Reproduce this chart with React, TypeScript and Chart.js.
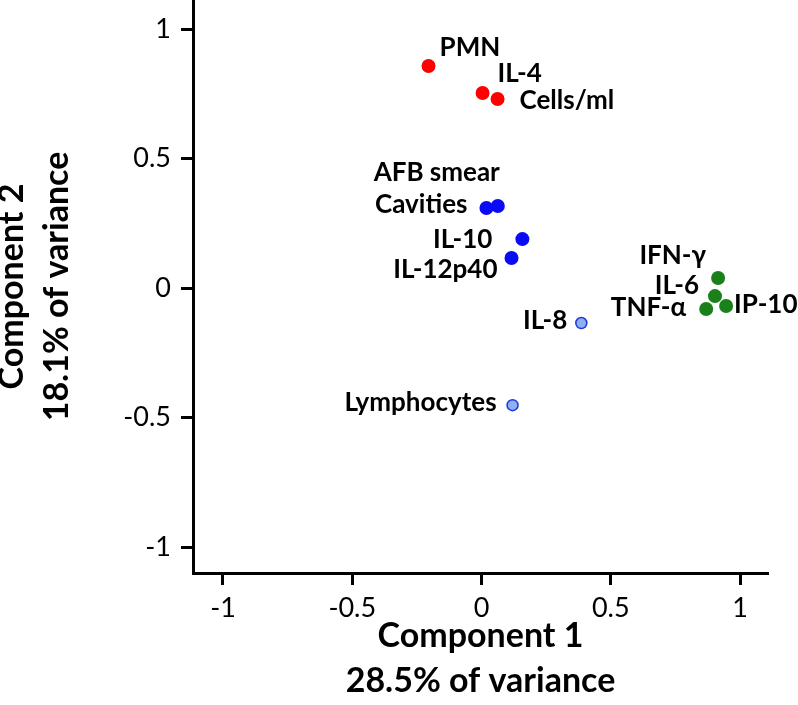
import { useEffect, useRef } from 'react';
import { Chart, registerables } from 'chart.js';

Chart.register(...registerables);

// ---- data ----
const redNames = ['PMN', 'IL-4', 'Cells/ml'];
const redX = [-0.205, 0.004, 0.062];
const redY = [0.857, 0.753, 0.73];

const blueNames = ['AFB smear', 'Cavities', 'IL-10', 'IL-12p40'];
const blueX = [0.063, 0.019, 0.158, 0.116];
const blueY = [0.317, 0.309, 0.189, 0.116];

const lightNames = ['IL-8', 'Lymphocytes'];
const lightX = [0.386, 0.12];
const lightY = [-0.135, -0.452];

const greenNames = ['IFN-γ', 'IL-6', 'IP-10', 'TNF-α'];
const greenX = [0.915, 0.903, 0.946, 0.869];
const greenY = [0.039, -0.031, -0.069, -0.081];

const xTicks = [-1, -0.5, 0, 0.5, 1];
const yTicks = [-1, -0.5, 0, 0.5, 1];

const xTitle = ['Component 1', '28.5% of variance'];
const yTitle = ['Component 2', '18.1% of variance'];

// ---- label placement (style) ----
const labelPlacement: Record<string, { dx: number; dy: number; align: CanvasTextAlign }> = {
  'PMN': { dx: 11, dy: -18, align: 'left' },
  'IL-4': { dx: 15, dy: -19, align: 'left' },
  'Cells/ml': { dx: 22, dy: 2, align: 'left' },
  'AFB smear': { dx: 2, dy: -33, align: 'right' },
  'Cavities': { dx: -19, dy: -3, align: 'right' },
  'IL-10': { dx: -30, dy: 1, align: 'right' },
  'IL-12p40': { dx: -14, dy: 12, align: 'right' },
  'IL-8': { dx: -14, dy: -2, align: 'right' },
  'Lymphocytes': { dx: -16, dy: -3, align: 'right' },
  'IFN-γ': { dx: -12, dy: -22, align: 'right' },
  'IL-6': { dx: -16, dy: -10, align: 'right' },
  'IP-10': { dx: 8, dy: -1, align: 'left' },
  'TNF-α': { dx: -20, dy: -1, align: 'right' },
};

const FONT = 'Lato';

const pointLabels = {
  id: 'pointLabels',
  afterDatasetsDraw(chart: any) {
    const ctx = chart.ctx;
    ctx.save();
    ctx.font = `bold 26px ${FONT}`;
    ctx.fillStyle = '#000';
    ctx.textBaseline = 'middle';
    chart.data.datasets.forEach((ds: any, i: number) => {
      const meta = chart.getDatasetMeta(i);
      meta.data.forEach((el: any, j: number) => {
        const name = ds.pointNames[j];
        const p = labelPlacement[name] || { dx: 10, dy: 0, align: 'left' };
        ctx.textAlign = p.align;
        ctx.fillText(name, el.x + p.dx, el.y + p.dy);
      });
    });
    ctx.restore();
  },
};

function mk(xs: number[], ys: number[]) {
  return xs.map((x, i) => ({ x, y: ys[i] }));
}

export default function App() {
  const ref = useRef<HTMLCanvasElement>(null);
  useEffect(() => {
    if (!ref.current) return;
    const tickFont = { family: FONT, size: 27 };
    const titleFont = { family: FONT, size: 34, weight: 'bold' as const, lineHeight: 1.32 };
    const chart = new Chart(ref.current, {
      type: 'scatter',
      data: {
        datasets: [
          {
            label: 'red',
            pointNames: redNames,
            data: mk(redX, redY),
            backgroundColor: '#ff0000',
            borderColor: '#ff0000',
            borderWidth: 0,
            pointRadius: 7,
          } as any,
          {
            label: 'blue',
            pointNames: blueNames,
            data: mk(blueX, blueY),
            backgroundColor: '#0a0af5',
            borderColor: '#0a0af5',
            borderWidth: 0,
            pointRadius: 7,
          } as any,
          {
            label: 'light',
            pointNames: lightNames,
            data: mk(lightX, lightY),
            backgroundColor: '#8fb0ee',
            borderColor: '#1f35e0',
            borderWidth: 1.5,
            pointRadius: 5.5,
          } as any,
          {
            label: 'green',
            pointNames: greenNames,
            data: mk(greenX, greenY),
            backgroundColor: '#1a801a',
            borderColor: '#1a801a',
            borderWidth: 0,
            pointRadius: 7,
          } as any,
        ],
      },
      options: {
        animation: false,
        responsive: false,
        layout: { autoPadding: false, padding: { top: 0, right: 30, bottom: 0, left: 0 } },
        plugins: { legend: { display: false }, tooltip: { enabled: false } },
        scales: {
          x: {
            type: 'linear',
            min: -1.116,
            max: 1.108,
            afterBuildTicks: (s: any) => {
              s.ticks = xTicks.map((v) => ({ value: v }));
            },
            afterFit: (s: any) => {
              s.height = 132;
              s.paddingLeft = 0;
              s.paddingRight = 0;
            },
            ticks: {
              font: tickFont,
              color: '#000',
              padding: 7,
              maxRotation: 0,
              callback: (v: any) => String(v),
            },
            grid: { drawOnChartArea: false, drawTicks: true, tickLength: 12, tickWidth: 3, tickColor: '#000' },
            border: { display: true, color: '#000', width: 3 },
            title: { display: true, text: xTitle, font: titleFont, color: '#000', padding: { top: 0, bottom: 2 } },
          },
          y: {
            type: 'linear',
            min: -1.1,
            max: 1.112,
            afterBuildTicks: (s: any) => {
              s.ticks = yTicks.map((v) => ({ value: v }));
            },
            afterFit: (s: any) => {
              s.width = 193;
              s.paddingTop = 0;
              s.paddingBottom = 0;
            },
            ticks: {
              font: tickFont,
              color: '#000',
              padding: 10,
              callback: (v: any) => String(v),
            },
            grid: { drawOnChartArea: false, drawTicks: true, tickLength: 12, tickWidth: 3, tickColor: '#000' },
            border: { display: true, color: '#000', width: 3 },
            title: { display: true, text: yTitle, font: titleFont, color: '#000', padding: { top: -10, bottom: 0 } },
          },
        },
      } as any,
      plugins: [pointLabels],
    });
    return () => chart.destroy();
  }, []);
  return (
    <div style={{ position: 'absolute', left: 0, top: 0, width: 798, height: 705, background: '#fff' }}>
      <canvas ref={ref} width={798} height={705} style={{ display: 'block' }} />
    </div>
  );
}
